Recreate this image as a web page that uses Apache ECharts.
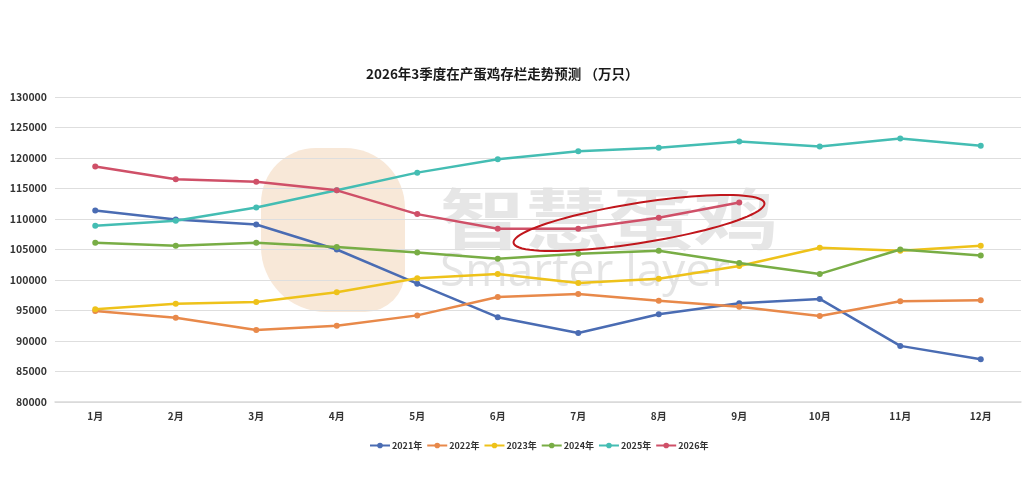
<!DOCTYPE html>
<html>
<head>
<meta charset="utf-8">
<script src="https://cdn.jsdelivr.net/npm/echarts@6/dist/echarts.min.js"></script>
<style>
html,body{margin:0;padding:0;background:#fff;}
#chart{width:1034px;height:483px;}
</style>
</head>
<body>
<div id="chart"></div>
<script>
const months = ['1月','2月','3月','4月','5月','6月','7月','8月','9月','10月','11月','12月'];
const seriesNames = ['2021年','2022年','2023年','2024年','2025年','2026年'];
const y2021 = [111400,109900,109100,105000,99400,93900,91300,94400,96200,96900,89200,87000];
const y2022 = [94900,93800,91800,92500,94200,97200,97700,96600,95600,94100,96500,96700];
const y2023 = [95200,96100,96400,98000,100300,101000,99500,100200,102300,105300,104800,105600];
const y2024 = [106100,105600,106100,105400,104500,103500,104300,104800,102800,101000,105000,104000];
const y2025 = [108900,109700,111900,114700,117600,119800,121100,121700,122700,121900,123200,122000];
const y2026 = [118600,116500,116100,114700,110800,108400,108400,110200,112700];
const colors = ['#4a6cb3','#e8894a','#eec21a','#78ad45','#44bdb3','#cf5068'];

const allData = [y2021,y2022,y2023,y2024,y2025,y2026];

const chart = echarts.init(document.getElementById('chart'), null, {renderer:'canvas'});

// ellipse annotation (pixel-space highlight)
const ellipsePts = [];
(function(){
  const cx=639, cy=223, a=127, b=20, th=-9*Math.PI/180;
  for(let i=0;i<90;i++){
    const t=i/90*2*Math.PI;
    const x=a*Math.cos(t), y=b*Math.sin(t);
    ellipsePts.push([cx + x*Math.cos(th) - y*Math.sin(th), cy + x*Math.sin(th) + y*Math.cos(th)]);
  }
})();

const narrow = '"Liberation Sans Narrow","Noto Sans CJK SC",sans-serif';

chart.setOption({
  animation:false,
  backgroundColor:'#ffffff',
  color: colors,
  title:{
    text:'2026年3季度在产蛋鸡存栏走势预测 （万只）',
    left:361, top:62,
    textStyle:{fontSize:13.5,fontWeight:'bold',color:'#1a1a1a',fontFamily:'"Noto Sans CJK SC", sans-serif'}
  },
  legend:{
    bottom:28, left:364,
    itemWidth:20, itemHeight:7, itemGap:4,
    textStyle:{fontSize:9,color:'#333',fontWeight:'bold',padding:[0,0,0,-3],fontFamily:narrow},
    data: seriesNames
  },
  grid:{left:55,right:13,top:97,bottom:81,containLabel:false},
  xAxis:{
    type:'category', data:months, boundaryGap:true,
    axisLine:{show:true,lineStyle:{color:'#d9d9d9',width:1.5}},
    axisTick:{show:false},
    axisLabel:{fontSize:10,color:'#333',fontWeight:'bold',margin:9,fontFamily:narrow}
  },
  yAxis:{
    type:'value', min:80000, max:130000, interval:5000,
    axisLine:{show:false}, axisTick:{show:false},
    splitLine:{lineStyle:{color:'#dedede',width:1.2}},
    axisLabel:{fontSize:10.5,color:'#333',fontWeight:'bold',margin:8,formatter:v=>String(v),fontFamily:narrow}
  },
  graphic:[
    {type:'rect', z:-10, shape:{x:261,y:148,width:144,height:164,r:[55,60,40,65]}, style:{fill:'#f8e8d8'}, silent:true},
    {type:'text', z:-9, x:440, y:186, scaleX:1.28, style:{text:'智慧蛋鸡', fontSize:66, fontWeight:'bold', fill:'rgba(200,200,200,0.45)', fontFamily:'"Noto Sans CJK SC",sans-serif'}, silent:true},
    {type:'text', z:-9, x:440, y:250, style:{text:'Smarter layer', fontSize:46, fill:'rgba(205,205,205,0.55)', fontFamily:'"Open Sans",sans-serif'}, silent:true},
    {type:'polygon', z:100, shape:{points:ellipsePts}, style:{fill:'none', stroke:'#c0161c', lineWidth:2}, silent:true}
  ],
  series: seriesNames.map((n,i)=>({
    name:n, type:'line', data: allData[i],
    symbol:'circle', symbolSize:6,
    lineStyle:{width:2.5, color:colors[i]},
    itemStyle:{color:colors[i]},
    z: 5+i
  }))
});
</script>
</body>
</html>
